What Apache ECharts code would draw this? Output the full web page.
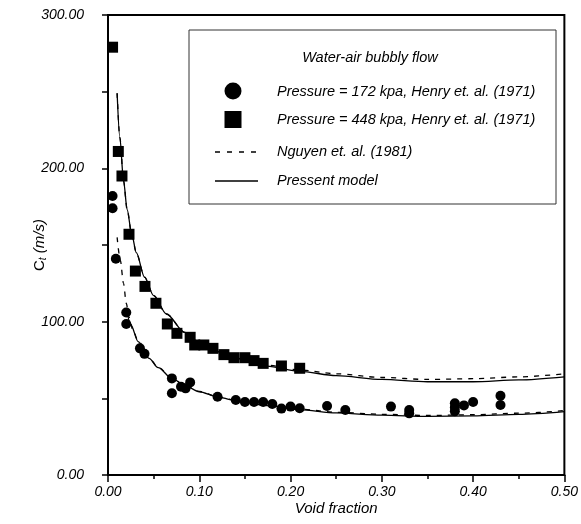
<!DOCTYPE html>
<html>
<head>
<meta charset="utf-8">
<script src="https://cdn.jsdelivr.net/npm/echarts@6/dist/echarts.min.js"></script>
<style>
html,body{margin:0;padding:0;background:#fff;}
#chart{width:581px;height:524px;}
</style>
</head>
<body>
<div id="chart"></div>
<script>
// Measured data: Pressure = 172 kpa (circles)
var p172X = [0.005,0.005,0.0086,0.020,0.020,0.035,0.040,0.070,0.070,0.080,0.085,0.090,0.120,0.140,0.150,0.160,0.170,0.180,0.190,0.200,0.210,0.240,0.260,0.310,0.330,0.330,0.380,0.380,0.380,0.390,0.400,0.430,0.430];
var p172Y = [182,174,141,106,98.5,82.6,79,63,53.3,57.6,56.5,60.4,51,48.9,47.6,47.6,47.6,46.3,43.3,44.6,43.5,45,42.4,44.6,42.4,40.2,46.8,44.1,41.5,45.4,47.6,51.7,45.6];
// Measured data: Pressure = 448 kpa (squares)
var p448X = [0.005,0.0113,0.0153,0.023,0.030,0.0405,0.0525,0.065,0.0755,0.090,0.095,0.105,0.115,0.127,0.138,0.150,0.160,0.170,0.190,0.210];
var p448Y = [279,211,195,157,133,123,112,98.5,92.4,89.8,84.8,84.8,82.6,78.5,76.5,76.5,74.6,72.8,71.1,69.6];
// Present model curves
var modelHiX = [0.010,0.013,0.017,0.021,0.026,0.031,0.040,0.050,0.064,0.084,0.100,0.120,0.140,0.174,0.210,0.250,0.300,0.350,0.400,0.450,0.500];
var modelHiY = [249,220,192,173,157,145,129,117,105,93,86.5,80.5,76,71,67.6,64.8,62.3,60.8,60.8,62,64];
var modelLoX = [0.020,0.025,0.033,0.045,0.055,0.070,0.085,0.100,0.120,0.137,0.174,0.210,0.250,0.300,0.350,0.400,0.450,0.500];
var modelLoY = [109,98,87,76,70,63,58,54.3,51,48.8,45.2,42.6,40.5,39,38.2,38.5,39.5,41.3];
// Nguyen et. al. (1981) curves
var nguyenHiX = [0.010,0.013,0.017,0.021,0.026,0.031,0.040,0.050,0.064,0.084,0.100,0.120,0.140,0.174,0.210,0.250,0.300,0.350,0.400,0.450,0.500];
var nguyenHiY = [249,220,192,173,157,145,129,117,105,93,86.5,80.5,76.2,71.6,68.5,66,63.6,62.3,62.8,64,66];
var nguyenLoX = [0.010,0.0135,0.017,0.020,0.023,0.027,0.033,0.045,0.055,0.070,0.085,0.100,0.120,0.137,0.174,0.210,0.250,0.300,0.350,0.400,0.450,0.500];
var nguyenLoY = [155,140,125,112,103,95,87.5,76.3,70.2,63.2,58.2,54.5,51.2,49,45.5,42.9,40.9,39.6,38.8,39.3,40.3,42];
// Axis ticks
var xTicks = {min:0, max:0.5, interval:0.1};
var yTicks = {min:0, max:300, interval:100};

function pairs(xs, ys){ return xs.map(function(x,i){ return [x, ys[i]]; }); }

var chart = echarts.init(document.getElementById('chart'));
var F = 'Liberation Sans, Arial, sans-serif';
var lineW = 1.3;

chart.setOption({
  animation:false,
  backgroundColor:'#fff',
  grid:{left:108, right:16, top:15, bottom:49, show:true, borderColor:'#000', borderWidth:2},
  xAxis:{
    type:'value', min:xTicks.min, max:xTicks.max, interval:xTicks.interval,
    name:'Void fraction', nameLocation:'middle', nameGap:26, nameMoveOverlap:false,
    nameTextStyle:{fontFamily:F, fontStyle:'italic', fontSize:15, color:'#000'},
    axisLine:{lineStyle:{color:'#000', width:2}},
    axisTick:{length:7, lineStyle:{color:'#000', width:1.5}},
    minorTick:{show:true, splitNumber:2, length:4, lineStyle:{color:'#000', width:1.5}},
    splitLine:{show:false},
    axisLabel:{margin:10, fontFamily:F, fontStyle:'italic', fontSize:14, color:'#000',
      formatter:function(v){ return v.toFixed(2); }}
  },
  yAxis:{
    type:'value', min:yTicks.min, max:yTicks.max, interval:yTicks.interval,
    name:'{c|C}{t|t}{u| (m/s)}', nameLocation:'middle', nameGap:60, nameRotate:90, nameMoveOverlap:false,
    nameTextStyle:{
      rich:{
        c:{fontFamily:F, fontSize:15, color:'#000'},
        t:{fontFamily:F, fontSize:10, fontStyle:'italic', color:'#000', verticalAlign:'bottom', padding:[6,0,0,0]},
        u:{fontFamily:F, fontSize:15, fontStyle:'italic', color:'#000'}
      }
    },
    axisLine:{lineStyle:{color:'#000', width:2}},
    axisTick:{length:6, lineStyle:{color:'#000', width:1.5}},
    minorTick:{show:true, splitNumber:2, length:6, lineStyle:{color:'#000', width:1.5}},
    splitLine:{show:false},
    axisLabel:{margin:24, fontFamily:F, fontStyle:'italic', fontSize:14, color:'#000',
      formatter:function(v){ return v.toFixed(2); }}
  },
  series:[
    {name:'Nguyen hi', type:'line', data:pairs(nguyenHiX,nguyenHiY), showSymbol:false, smooth:0.3, smoothMonotone:'x',
      lineStyle:{color:'#000', width:lineW, type:[5,6]}, z:2},
    {name:'Nguyen lo', type:'line', data:pairs(nguyenLoX,nguyenLoY), showSymbol:false, smooth:0.3, smoothMonotone:'x',
      lineStyle:{color:'#000', width:lineW, type:[5,6]}, z:2},
    {name:'Model hi', type:'line', data:pairs(modelHiX,modelHiY), showSymbol:false, smooth:0.3, smoothMonotone:'x',
      lineStyle:{color:'#000', width:lineW}, z:3},
    {name:'Model lo', type:'line', data:pairs(modelLoX,modelLoY), showSymbol:false, smooth:0.3, smoothMonotone:'x',
      lineStyle:{color:'#000', width:lineW}, z:3},
    {name:'172', type:'scatter', data:pairs(p172X,p172Y), symbol:'circle', symbolSize:10,
      itemStyle:{color:'#000', opacity:1}, z:4},
    {name:'448', type:'scatter', data:pairs(p448X,p448Y), symbol:'rect', symbolSize:11,
      itemStyle:{color:'#000', opacity:1}, z:4}
  ],
  graphic:[
    {type:'rect', shape:{x:189, y:30, width:367, height:174}, style:{fill:'#fff', stroke:'#333', lineWidth:1}, z:10},
    {type:'text', x:370, y:58, style:{text:'Water-air bubbly flow', font:'italic 14.5px '+F, fill:'#000', textAlign:'center', textVerticalAlign:'middle'}, z:11},
    {type:'circle', shape:{cx:233, cy:91, r:8.5}, style:{fill:'#000'}, z:11},
    {type:'text', x:277, y:92, style:{text:'Pressure = 172 kpa, Henry et. al. (1971)', font:'italic 14.5px '+F, fill:'#000', textVerticalAlign:'middle'}, z:11},
    {type:'rect', shape:{x:224.5, y:111, width:17, height:17}, style:{fill:'#000'}, z:11},
    {type:'text', x:277, y:120, style:{text:'Pressure = 448 kpa, Henry et. al. (1971)', font:'italic 14.5px '+F, fill:'#000', textVerticalAlign:'middle'}, z:11},
    {type:'line', shape:{x1:215, y1:152, x2:258, y2:152}, style:{stroke:'#000', lineWidth:1.3, lineDash:[5,7]}, z:11},
    {type:'text', x:277, y:152, style:{text:'Nguyen et. al. (1981)', font:'italic 14.5px '+F, fill:'#000', textVerticalAlign:'middle'}, z:11},
    {type:'line', shape:{x1:215, y1:181, x2:258, y2:181}, style:{stroke:'#000', lineWidth:1.3}, z:11},
    {type:'text', x:277, y:181, style:{text:'Pressent model', font:'italic 14.5px '+F, fill:'#000', textVerticalAlign:'middle'}, z:11}
  ]
});
</script>
</body>
</html>
